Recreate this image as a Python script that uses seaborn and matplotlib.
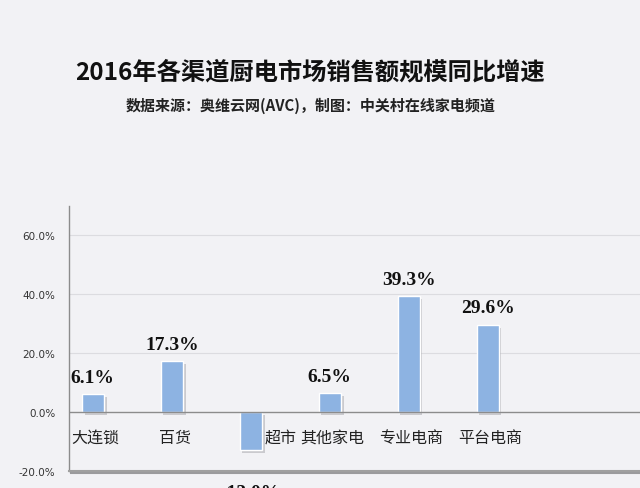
import matplotlib
matplotlib.use("Agg")
import matplotlib.pyplot as plt
import matplotlib.patheffects as pe
import seaborn as sns
import pandas as pd

categories = ["大连锁", "百货", "超市", "其他家电", "专业电商", "平台电商"]
values = [6.1, 17.3, -13.0, 6.5, 39.3, 29.6]
yticks = [-20, 0, 20, 40, 60]

sns.set_theme(style="white")
plt.rcParams['font.family'] = ['Noto Sans CJK SC', 'DejaVu Sans']

bg = "#f2f2f5"
fig = plt.figure(figsize=(6.4, 4.89), dpi=100, facecolor=bg)
ax = fig.add_axes([0.108, 0.035, 0.892, 0.542])
ax.set_facecolor(bg)

df = pd.DataFrame({"cat": categories, "val": values})
sns.barplot(data=df, x="cat", y="val", color="#8db3e2", width=0.28,
            saturation=1, ax=ax, zorder=3)
for p in ax.patches:
    p.set_path_effects([pe.SimplePatchShadow(offset=(2, -2), shadow_rgbFace="#9a9aa0", alpha=0.45),
                        pe.Normal()])

ax.set_ylim(-20, 70)
ax.set_xlim(-0.30, 6.93)
ax.set_yticks(yticks)
ax.set_yticklabels([f"{t:.1f}%" for t in yticks], fontsize=7.5, color="#333333",
                   family=['DejaVu Sans'])
ax.tick_params(axis='y', length=0, pad=10)
ax.set_xticks([])
ax.set_xlabel("")
ax.set_ylabel("")
for t in yticks[2:]:
    ax.axhline(t, color="#dcdce0", lw=0.8, zorder=1)
ax.axhline(0, color="#8c8c8c", lw=1.0, zorder=4)

for s in ["top", "right"]:
    ax.spines[s].set_visible(False)
ax.spines["left"].set_color("#8c8c8c")
ax.spines["left"].set_linewidth(1.0)
ax.spines["bottom"].set_color("#a0a0a0")
ax.spines["bottom"].set_linewidth(1.5)
ax.spines["bottom"].set_path_effects([pe.SimpleLineShadow(offset=(1, -1.5), alpha=0.4), pe.Normal()])

for i, (c, v) in enumerate(zip(categories, values)):
    if v >= 0:
        ax.annotate(f"{v:.1f}%", (i, v), xytext=(0, 6), textcoords="offset points",
                    ha="center", va="bottom", fontsize=14, fontweight="bold",
                    family=["Liberation Serif"], color="#111111")
        ax.annotate(c, (i, 0), xytext=(2, -12), textcoords="offset points",
                    ha="center", va="top", fontsize=11.5, color="#222222")
    else:
        ax.annotate(f"{v:.1f}%", (i, v), xytext=(0, -24), textcoords="offset points",
                    ha="center", va="top", fontsize=14, fontweight="bold",
                    family=["Liberation Serif"], color="#111111", annotation_clip=False)
        ax.annotate(c, (i, 0), xytext=(10, -12), textcoords="offset points",
                    ha="left", va="top", fontsize=11.5, color="#222222")

fig.text(0.485, 0.851, "2016年各渠道厨电市场销售额规模同比增速", ha="center", va="center",
         fontsize=17.5, fontweight="bold", color="#111111")
fig.text(0.485, 0.783, "数据来源：奥维云网(AVC)，制图：中关村在线家电频道", ha="center", va="center",
         fontsize=10.8, fontweight="bold", color="#222222")

fig.savefig("out.png", dpi=100, facecolor=bg)
